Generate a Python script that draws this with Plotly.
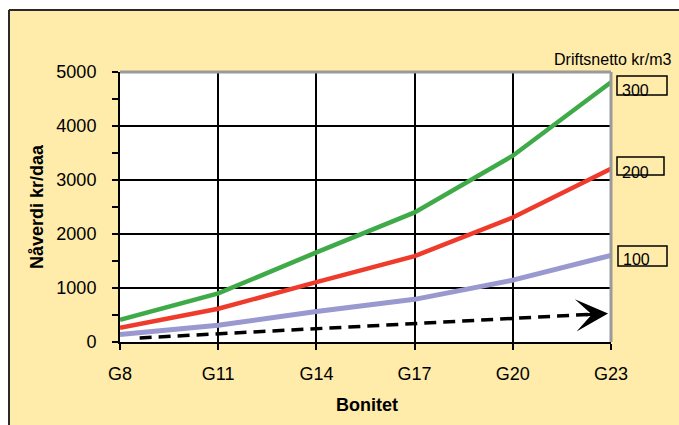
import plotly.graph_objects as go

categories = ["G8", "G11", "G14", "G17", "G20", "G23"]
green_300 = [410, 900, 1660, 2400, 3450, 4810]
red_200 = [265, 615, 1110, 1590, 2305, 3210]
blue_100 = [140, 310, 565, 790, 1145, 1605]
# dashed reference line (start, end) in category-index units
dash_x = [0.2, 4.87]
dash_y = [75, 520]
arrow_tip = (4.97, 526)
y_ticks = [0, 1000, 2000, 3000, 4000, 5000]
box_labels = ["300", "200", "100"]

FONT = "Liberation Sans, Arial, sans-serif"
W, H = 679, 425
L, R, T, B = 120, 68, 72, 83
PW, PH = W - L - R, H - T - B


def px(x):
    return (x - L) / PW


def py(y):
    return (H - B - y) / PH


xi = list(range(len(categories)))
fig = go.Figure()
fig.add_trace(go.Scatter(x=xi, y=blue_100, mode="lines",
                         line=dict(color="#9999CF", width=5)))
fig.add_trace(go.Scatter(x=xi, y=red_200, mode="lines",
                         line=dict(color="#EE3B2C", width=4.5)))
fig.add_trace(go.Scatter(x=xi, y=green_300, mode="lines",
                         line=dict(color="#3FAA48", width=4.5)))
fig.add_trace(go.Scatter(x=dash_x, y=dash_y, mode="lines",
                         line=dict(color="black", width=3.5, dash="12px,7px")))

shapes = []
# white outer strips (top/left) and chart frame border
shapes.append(dict(type="rect", xref="paper", yref="paper", x0=px(-20), x1=px(8),
                   y0=py(450), y1=py(-20), fillcolor="white", line=dict(width=0), layer="below"))
shapes.append(dict(type="rect", xref="paper", yref="paper", x0=px(-20), x1=px(700),
                   y0=py(9), y1=py(-20), fillcolor="white", line=dict(width=0), layer="below"))
shapes.append(dict(type="line", xref="paper", yref="paper", x0=px(9), x1=px(9),
                   y0=py(450), y1=py(10), line=dict(color="#2a2a2a", width=2)))
shapes.append(dict(type="line", xref="paper", yref="paper", x0=px(9), x1=px(700),
                   y0=py(10), y1=py(10), line=dict(color="#2a2a2a", width=2)))
# plot area gray top/right border
shapes.append(dict(type="line", xref="paper", yref="paper", x0=0, x1=1, y0=1, y1=1,
                   line=dict(color="#9a9a9a", width=3)))
shapes.append(dict(type="line", xref="paper", yref="paper", x0=1, x1=1, y0=0, y1=1,
                   line=dict(color="#9a9a9a", width=3)))
# label boxes
boxes = [(617, 667, 76, 95), (617, 664, 157, 175), (618, 667, 246, 266)]
for x0, x1, y0, y1 in boxes:
    shapes.append(dict(type="rect", xref="paper", yref="paper", x0=px(x0), x1=px(x1),
                       y0=py(y1), y1=py(y0), line=dict(color="black", width=1.5)))

annotations = []
annotations.append(dict(text="Driftsnetto kr/m3", xref="paper", yref="paper",
                        x=px(673), y=py(60), xanchor="right", yanchor="middle",
                        showarrow=False, font=dict(family=FONT, size=16, color="black")))
label_y = [90, 172, 259]
label_x = [620, 620, 621]
for t, lx, ly in zip(box_labels, label_x, label_y):
    annotations.append(dict(text=t, xref="paper", yref="paper", x=px(lx), y=py(ly),
                            xanchor="left", yanchor="middle", showarrow=False,
                            font=dict(family=FONT, size=16, color="black")))
annotations.append(dict(text="<b>Nåverdi kr/daa</b>", xref="paper", yref="paper",
                        x=px(37), y=py(207), textangle=-90, showarrow=False,
                        xanchor="center", yanchor="middle",
                        font=dict(family=FONT, size=18, color="black")))
annotations.append(dict(text="<b>Bonitet</b>", xref="paper", yref="paper",
                        x=px(367), y=py(405), showarrow=False,
                        xanchor="center", yanchor="middle",
                        font=dict(family=FONT, size=18, color="black")))
annotations.append(dict(x=arrow_tip[0], y=arrow_tip[1], xref="x", yref="y",
                        ax=-24, ay=1.3, axref="pixel", ayref="pixel",
                        showarrow=True, arrowhead=3, arrowsize=1.8, arrowwidth=3,
                        arrowcolor="black", standoff=0, text=""))

fig.update_layout(
    width=W, height=H,
    margin=dict(l=L, r=R, t=T, b=B),
    paper_bgcolor="#FFEBAA",
    plot_bgcolor="white",
    showlegend=False,
    shapes=shapes,
    annotations=annotations,
    font=dict(family=FONT, size=18, color="black"),
)
fig.update_xaxes(
    range=[0, 5], tickmode="array", tickvals=xi, ticktext=categories,
    showgrid=True, gridcolor="black", gridwidth=1.5,
    showline=True, linecolor="black", linewidth=2,
    ticks="outside", ticklen=6, tickwidth=1.5, tickcolor="black",
    ticklabelstandoff=8, zeroline=False,
    tickfont=dict(family=FONT, size=18, color="black"),
)
fig.update_yaxes(
    range=[0, 5000], tickmode="array", tickvals=y_ticks,
    showgrid=True, gridcolor="black", gridwidth=1.5,
    showline=True, linecolor="black", linewidth=2,
    ticks="outside", ticklen=6, tickwidth=1.5, tickcolor="black",
    minor=dict(dtick=500, ticks="outside", ticklen=6, tickwidth=1.5,
               tickcolor="black", showgrid=False),
    ticklabelstandoff=12, zeroline=False,
    tickfont=dict(family=FONT, size=18, color="black"),
)

fig.write_html("out.html",
               config={"displayModeBar": False},
               post_script="document.body.style.margin='0';"
                           "document.body.style.overflow='hidden';"
                           "document.documentElement.style.overflow='hidden';")
